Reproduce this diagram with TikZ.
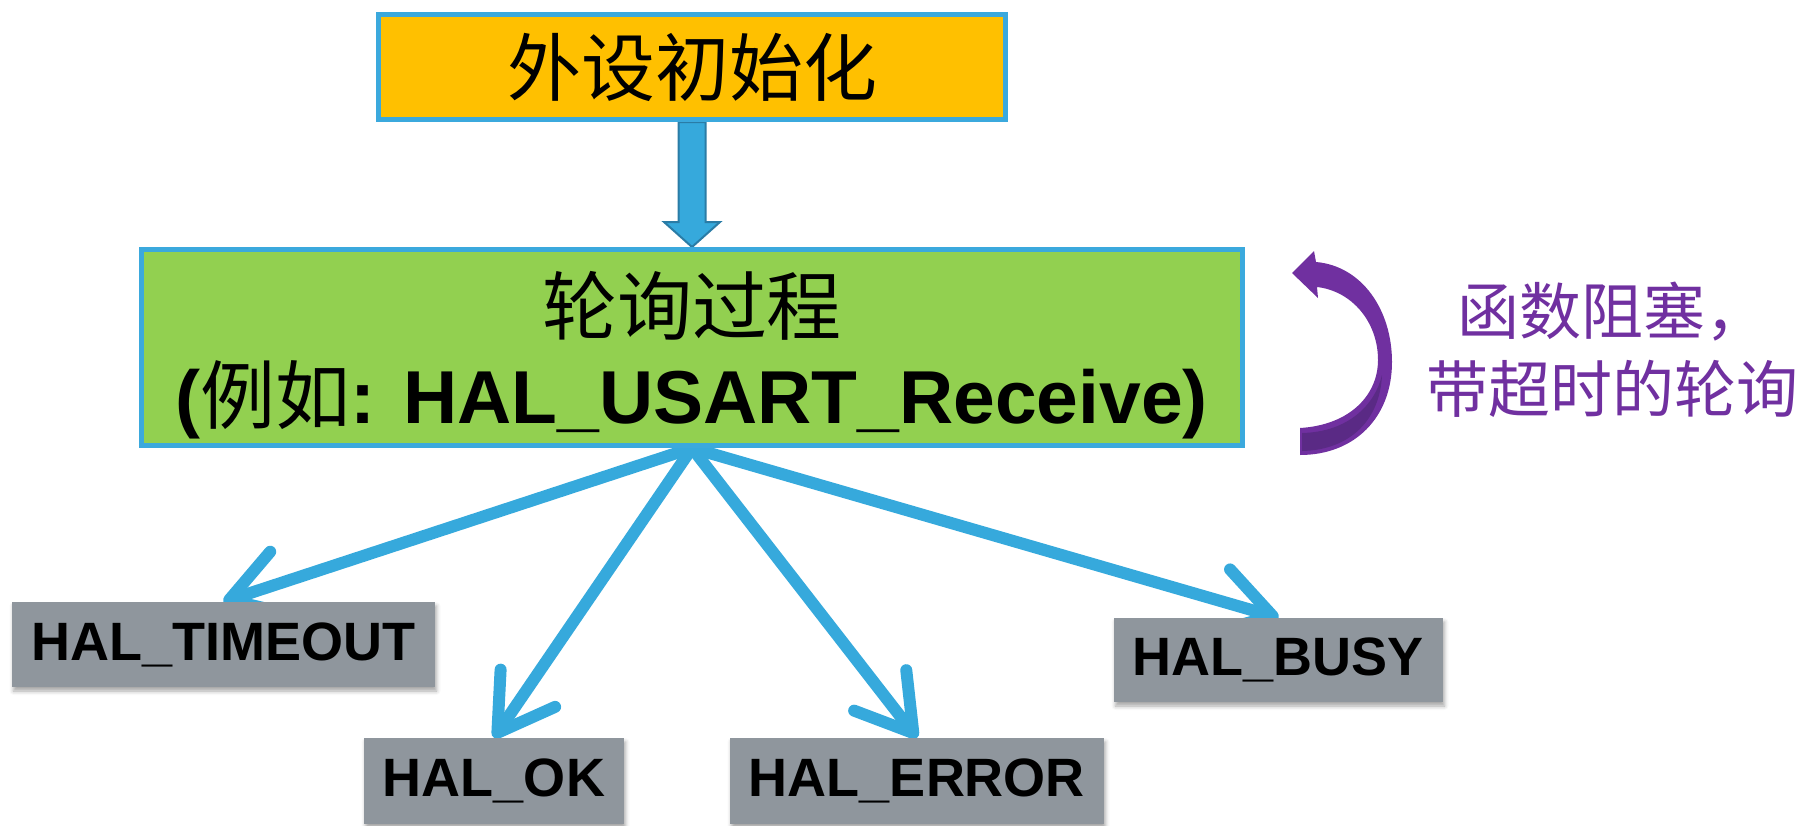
\documentclass[tikz,border=0pt]{standalone}
\usepackage{fontspec}
\setmainfont{Liberation Sans}
\newfontfamily\cjk{Noto Sans CJK SC}
\usetikzlibrary{arrows.meta,shadows.blur,calc}
\definecolor{borderblue}{HTML}{3BA9DD}
\definecolor{arrowblue}{HTML}{36A9DC}
\definecolor{arrowdark}{HTML}{2A7CA6}
\definecolor{orangey}{HTML}{FFC000}
\definecolor{greeny}{HTML}{92D050}
\definecolor{grayc}{HTML}{8F969D}
\definecolor{purplec}{HTML}{7030A0}
\definecolor{purpledark}{HTML}{5A2A85}
\pgfdeclarelayer{bg}
\pgfsetlayers{bg,main}
\tikzset{
  box/.style={draw=borderblue, line width=5pt, inner sep=0pt, align=center},
  topbox/.style={box, fill=orangey, minimum width=627pt, minimum height=105pt,
    font=\cjk\fontsize{74}{89}\selectfont},
  procbox/.style={box, fill=greeny, minimum width=1101pt, minimum height=196pt,
    font=\bfseries\fontsize{75}{89}\selectfont},
  statebox/.style={fill=grayc, inner sep=0pt, font=\bfseries\fontsize{54}{60}\selectfont,
    blur shadow={shadow xshift=1.5pt, shadow yshift=-4pt, shadow blur radius=4pt, shadow opacity=35}},
  fan/.style={draw=arrowblue, line width=12pt,
    -{Straight Barb[length=54pt,width=66pt,round]}},
  bigarrow/.style={fill=arrowblue, draw=arrowdark, line width=2pt, line join=miter},
  note/.style={text=purplec, align=center, font=\cjk\fontsize{62}{78}\selectfont},
}
\begin{document}
\begin{tikzpicture}[x=1pt,y=1pt]
\useasboundingbox (0,0) rectangle (1808,-825);

\node[topbox] (init) at (692,-67) {外设初始化};
\node[procbox] (poll) at (692,-347.5) {\rule{0pt}{78pt}{\mdseries\cjk 轮询过程}\\({\mdseries\cjk 例如}: HAL\_USART\_Receive)};

\node[statebox, minimum width=423pt, minimum height=85pt] (timeout) at (223.5,-644.5) {HAL\_TIMEOUT};
\node[statebox, minimum width=260pt, minimum height=86pt] (ok) at (494,-781) {HAL\_OK};
\node[statebox, minimum width=374pt, minimum height=86pt] (error) at (917,-781) {HAL\_ERROR};
\node[statebox, minimum width=329pt, minimum height=84pt] (busy) at (1278.5,-660) {HAL\_BUSY};

\node[note] (blocking) at (1612,-350) {函数阻塞，\\带超时的轮询};

\begin{pgfonlayer}{bg}
  % block arrow from init to poll
  \draw[bigarrow] ($(init.south)+(-13.5,0)$) -- ($(poll.north)+(-13.5,25)$)
     -- ($(poll.north)+(-28,25)$) -- (poll.north) -- ($(poll.north)+(28,25)$)
     -- ($(poll.north)+(13.5,25)$) -- ($(init.south)+(13.5,0)$) -- cycle;
  \draw[fan] (poll.south) -- (timeout.north);
  \draw[fan] (poll.south) -- (ok.north);
  \draw[fan] (poll.south) -- (error.north);
  \draw[fan] (poll.south) -- (busy.north);
\end{pgfonlayer}

% curved purple arrow
\fill[purplec] (1300,-428) .. controls (1350,-425) and (1378,-395) .. (1378,-360)
   .. controls (1378,-322) and (1352,-291) .. (1317,-287)
   -- (1318,-298) -- (1292,-273) -- (1314,-251) -- (1316,-262)
   .. controls (1362,-266) and (1392,-310) .. (1392,-362)
   .. controls (1392,-417) and (1355,-455) .. (1300,-455) -- cycle;
\fill[purpledark] (1302,-433) .. controls (1348,-432) and (1375,-405) .. (1382,-375)
   .. controls (1380,-420) and (1350,-450) .. (1302,-451) -- cycle;
\end{tikzpicture}
\end{document}
